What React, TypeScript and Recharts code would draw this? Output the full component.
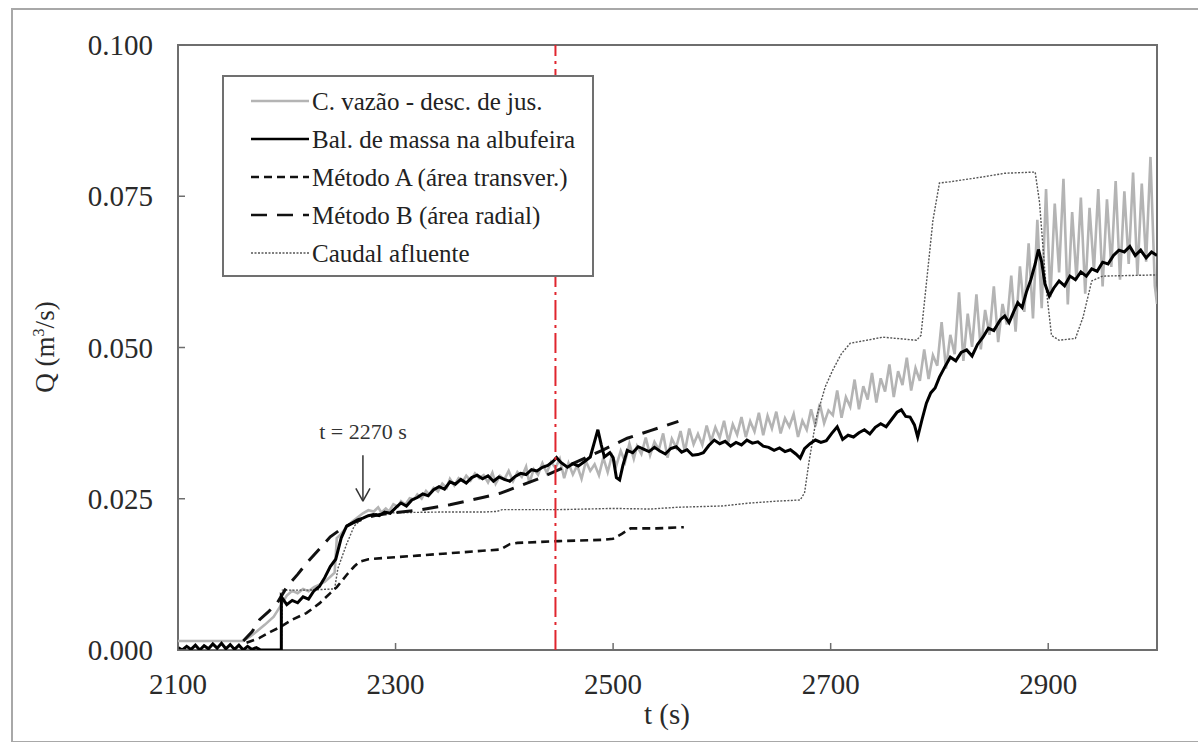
import React from 'react';
import { LineChart, Line, XAxis, YAxis, ReferenceLine, ReferenceArea, ReferenceDot } from 'recharts';

type P = [number, number];

const xTicks = [2100, 2300, 2500, 2700, 2900];
const yTicks = [0, 0.025, 0.05, 0.075, 0.1];
const markerTime = 2447;
const annotTime = 2270;

const cVazao: P[] = [
  [2100, 0.0015], [2160, 0.0015], [2166, 0.0022], [2172, 0.003], [2180, 0.0042], [2188, 0.0055], [2195, 0.0075],
  [2200, 0.009], [2205, 0.0098], [2210, 0.0094], [2215, 0.0101], [2220, 0.0097], [2225, 0.0104], [2230, 0.0108],
  [2235, 0.0113], [2240, 0.0121], [2244, 0.0128], [2246, 0.0185], [2250, 0.0192], [2255, 0.0203], [2260, 0.0212],
  [2265, 0.0219], [2270, 0.0226], [2275, 0.0231],
  [2280, 0.0229], [2284, 0.0236], [2287, 0.0227], [2291, 0.0234], [2294, 0.0229], [2298, 0.0241], [2302, 0.0237],
  [2305, 0.0246], [2309, 0.024], [2313, 0.0251], [2317, 0.0249], [2320, 0.0257], [2324, 0.025], [2328, 0.0263],
  [2331, 0.0257], [2335, 0.0268], [2339, 0.0262], [2343, 0.0275], [2347, 0.0268], [2350, 0.0283], [2354, 0.0272],
  [2358, 0.0284], [2362, 0.0279], [2365, 0.0288], [2369, 0.028], [2373, 0.0292], [2377, 0.0284], [2381, 0.0289],
  [2385, 0.0277], [2389, 0.0293], [2392, 0.0275], [2396, 0.0288], [2400, 0.0282], [2404, 0.0296], [2408, 0.0279],
  [2412, 0.0294], [2416, 0.0286], [2420, 0.0303], [2423, 0.0276], [2427, 0.0299], [2431, 0.029], [2435, 0.0309],
  [2439, 0.0293], [2443, 0.0311], [2447, 0.0301], [2451, 0.0316], [2455, 0.0284], [2459, 0.0309], [2463, 0.029],
  [2467, 0.0305], [2471, 0.0283], [2475, 0.0312], [2479, 0.0296], [2483, 0.0307], [2487, 0.0289], [2491, 0.0318],
  [2495, 0.0294], [2499, 0.0322], [2503, 0.0305], [2507, 0.0329], [2511, 0.0311], [2515, 0.0341], [2519, 0.0316],
  [2522, 0.0337], [2526, 0.0324], [2530, 0.0351], [2534, 0.0322], [2538, 0.0344], [2542, 0.0331], [2546, 0.0358],
  [2550, 0.0318], [2554, 0.0349], [2558, 0.0335], [2562, 0.0362], [2566, 0.0328], [2570, 0.0366], [2574, 0.034],
  [2578, 0.0357], [2582, 0.0339], [2586, 0.0371], [2590, 0.0345], [2594, 0.0368], [2598, 0.0351], [2602, 0.0379],
  [2606, 0.0344], [2610, 0.0373], [2614, 0.0356], [2618, 0.0385], [2622, 0.0352], [2626, 0.0378], [2630, 0.0361],
  [2634, 0.0392], [2638, 0.0355], [2642, 0.0387], [2646, 0.0366], [2650, 0.0394], [2654, 0.0358], [2658, 0.0383],
  [2662, 0.0369], [2666, 0.039], [2670, 0.0352], [2674, 0.0379], [2678, 0.0364], [2682, 0.0398], [2686, 0.037],
  [2690, 0.0407], [2694, 0.0375], [2698, 0.0396], [2702, 0.0388], [2706, 0.0429], [2710, 0.0384], [2714, 0.0418],
  [2718, 0.0402], [2722, 0.0447], [2726, 0.0398], [2730, 0.0436], [2734, 0.0414], [2738, 0.0458], [2742, 0.0409],
  [2746, 0.0449], [2750, 0.0427], [2754, 0.0472], [2758, 0.0418], [2762, 0.0461], [2766, 0.0438], [2770, 0.0483],
  [2774, 0.0429], [2778, 0.0466], [2782, 0.0445], [2786, 0.0497], [2790, 0.0448], [2794, 0.0487], [2798, 0.047],
  [2802, 0.0542], [2806, 0.0465], [2810, 0.0521], [2814, 0.0489], [2818, 0.0591], [2822, 0.0478], [2826, 0.0556],
  [2830, 0.0501], [2834, 0.0588], [2838, 0.0497], [2842, 0.0562], [2846, 0.0521], [2850, 0.0601], [2854, 0.0509],
  [2858, 0.0572], [2862, 0.0538], [2866, 0.0619], [2870, 0.0526], [2874, 0.0634], [2878, 0.0559], [2882, 0.0672],
  [2886, 0.0548], [2890, 0.0711], [2894, 0.0565], [2898, 0.0762], [2902, 0.0583], [2906, 0.0738], [2910, 0.0624],
  [2914, 0.0779], [2918, 0.0571], [2922, 0.0724], [2926, 0.0612], [2930, 0.0748], [2934, 0.0589], [2938, 0.0731],
  [2942, 0.0627], [2946, 0.0762], [2950, 0.0601], [2954, 0.0745], [2958, 0.0633], [2962, 0.0775], [2966, 0.0612],
  [2970, 0.0758], [2974, 0.0638], [2978, 0.0789], [2982, 0.0619], [2986, 0.0771], [2990, 0.0642], [2994, 0.0815],
  [2998, 0.0602], [3000, 0.0572],
];

const balMassa: P[] = [
  [2100, 0.0004], [2104, 0.0], [2108, 0.0006], [2112, 0.0001], [2116, 0.0008], [2120, 0.0], [2124, 0.0007],
  [2128, 0.0002], [2132, 0.001], [2136, 0.0003], [2140, 0.0011], [2144, 0.0002], [2148, 0.0009], [2152, 0.0001],
  [2156, 0.0008], [2160, 0.0], [2164, 0.0006], [2168, 0.0001], [2172, 0.0004], [2176, 0.0], [2195, 0.0],
  [2195, 0.0088], [2200, 0.0075], [2205, 0.0082], [2210, 0.0078], [2215, 0.0088], [2220, 0.0084], [2225, 0.0098],
  [2230, 0.0105], [2235, 0.012], [2240, 0.0138], [2245, 0.015], [2250, 0.0185], [2255, 0.0205], [2260, 0.021],
  [2265, 0.0215], [2270, 0.0218], [2275, 0.0222], [2280, 0.0224], [2285, 0.0222], [2290, 0.0228], [2295, 0.0226],
  [2300, 0.0235], [2305, 0.0243], [2310, 0.0238], [2315, 0.0248], [2320, 0.0252], [2325, 0.0258], [2330, 0.0255],
  [2335, 0.0265], [2340, 0.027], [2345, 0.0266], [2350, 0.0278], [2355, 0.0274], [2360, 0.0282], [2365, 0.0276],
  [2370, 0.0285], [2375, 0.0289], [2380, 0.0283], [2385, 0.0288], [2390, 0.0279], [2395, 0.0286], [2400, 0.0282],
  [2405, 0.0279], [2410, 0.0287], [2415, 0.0292], [2420, 0.029], [2425, 0.0298], [2430, 0.0296], [2435, 0.0302],
  [2440, 0.0305], [2445, 0.0312], [2448, 0.0318], [2452, 0.031], [2458, 0.0302], [2463, 0.0308], [2468, 0.0304],
  [2474, 0.0312], [2479, 0.0319], [2483, 0.0345], [2486, 0.0364], [2489, 0.034], [2492, 0.0319], [2497, 0.0326],
  [2500, 0.0318], [2503, 0.0285], [2506, 0.0281], [2509, 0.0305], [2513, 0.033], [2518, 0.0326], [2523, 0.0336],
  [2528, 0.0332], [2533, 0.0328], [2538, 0.0335], [2543, 0.0329], [2548, 0.0324], [2553, 0.0333], [2558, 0.0336],
  [2563, 0.0327], [2568, 0.0331], [2573, 0.0322], [2578, 0.0323], [2583, 0.0326], [2588, 0.0338], [2593, 0.0347],
  [2598, 0.0341], [2603, 0.0345], [2608, 0.0337], [2613, 0.0343], [2618, 0.0339], [2623, 0.0347], [2628, 0.0342],
  [2633, 0.0344], [2638, 0.0337], [2643, 0.0335], [2648, 0.033], [2653, 0.0334], [2658, 0.0328], [2663, 0.0331],
  [2668, 0.0324], [2672, 0.0317], [2676, 0.0333], [2681, 0.0341], [2686, 0.0347], [2691, 0.0343], [2696, 0.0346],
  [2701, 0.0358], [2706, 0.0369], [2711, 0.0348], [2716, 0.0355], [2721, 0.0352], [2726, 0.0359], [2731, 0.0364],
  [2736, 0.0357], [2741, 0.0368], [2746, 0.0374], [2751, 0.0369], [2756, 0.0381], [2761, 0.0393], [2765, 0.0397],
  [2769, 0.0386], [2773, 0.0385], [2777, 0.0372], [2780, 0.0352], [2784, 0.0381], [2788, 0.0408], [2792, 0.0425],
  [2796, 0.0433], [2800, 0.0451], [2805, 0.0468], [2810, 0.0484], [2815, 0.0478], [2820, 0.0492], [2825, 0.0496],
  [2830, 0.0486], [2835, 0.0505], [2840, 0.0517], [2845, 0.0532], [2850, 0.0528], [2856, 0.0546], [2860, 0.0552],
  [2864, 0.0541], [2868, 0.0558], [2872, 0.0574], [2876, 0.0566], [2880, 0.0592], [2884, 0.0612], [2888, 0.0638],
  [2891, 0.0662], [2894, 0.0641], [2897, 0.0605], [2901, 0.0585], [2905, 0.0598], [2910, 0.061], [2915, 0.0602],
  [2920, 0.0618], [2925, 0.0612], [2930, 0.0625], [2935, 0.0618], [2940, 0.063], [2945, 0.0626], [2950, 0.0641],
  [2955, 0.0638], [2960, 0.0652], [2965, 0.0661], [2970, 0.0658], [2975, 0.0667], [2980, 0.0652], [2985, 0.0661],
  [2990, 0.0648], [2995, 0.0658], [3000, 0.0652],
];

const metodoA: P[] = [
  [2163, 0.0012], [2175, 0.002], [2185, 0.003], [2194, 0.0038], [2205, 0.005], [2218, 0.0061], [2230, 0.0077],
  [2240, 0.0094], [2246, 0.0104], [2255, 0.0124], [2262, 0.0138], [2267, 0.0146], [2275, 0.015], [2289, 0.0152],
  [2320, 0.0156], [2350, 0.016], [2380, 0.0164], [2396, 0.0166], [2405, 0.0175], [2412, 0.0177], [2450, 0.018],
  [2490, 0.0182], [2500, 0.0184], [2508, 0.0192], [2516, 0.0201], [2540, 0.0201], [2565, 0.0203],
];

const metodoB: P[] = [
  [2160, 0.0015], [2168, 0.003], [2175, 0.005], [2183, 0.0063], [2191, 0.0077], [2200, 0.0104], [2210, 0.0125],
  [2218, 0.0143], [2230, 0.0167], [2240, 0.0187], [2250, 0.02], [2261, 0.021], [2272, 0.0218], [2283, 0.0223],
  [2300, 0.0227], [2320, 0.0231], [2350, 0.024], [2380, 0.0252], [2396, 0.0259], [2430, 0.0282], [2460, 0.0306],
  [2490, 0.033], [2513, 0.035], [2535, 0.0363], [2560, 0.0378],
];

const caudalAfluente: P[] = [
  [2195, 0.0], [2196, 0.0099], [2220, 0.0099], [2244, 0.0101], [2247, 0.0135], [2255, 0.0175], [2262, 0.0205],
  [2270, 0.0218], [2280, 0.0225], [2300, 0.0227], [2340, 0.0228], [2380, 0.0228], [2393, 0.0229], [2398, 0.0232],
  [2450, 0.0232], [2500, 0.0234], [2534, 0.0233], [2560, 0.0236], [2600, 0.0238], [2626, 0.0243], [2650, 0.0246],
  [2672, 0.0248], [2676, 0.026], [2680, 0.031], [2687, 0.0385], [2695, 0.0435], [2702, 0.0463], [2710, 0.049],
  [2718, 0.0507], [2748, 0.0517], [2779, 0.0512], [2783, 0.052], [2788, 0.0606], [2794, 0.071], [2800, 0.0772],
  [2810, 0.0774], [2840, 0.0782], [2860, 0.0788], [2888, 0.079], [2892, 0.074], [2898, 0.06], [2903, 0.052],
  [2910, 0.0512], [2925, 0.0515], [2932, 0.055], [2940, 0.061], [2950, 0.0618], [3000, 0.062],
];

const legendLabels = [
  'C. vazão - desc. de jus.',
  'Bal. de massa na albufeira',
  'Método A (área transver.)',
  'Método B (área radial)',
  'Caudal afluente',
];

const toData = (arr: P[]) => arr.map(([t, q]) => ({ t, q }));

const FONT = "'Liberation Serif', 'Times New Roman', Times, serif";
const AXIS = '#6e6e6e';

// styles follow legend order
const styles = [
  { stroke: '#b4b4b4', strokeWidth: 2.6, dash: undefined as string | undefined },
  { stroke: '#000', strokeWidth: 3, dash: undefined },
  { stroke: '#111', strokeWidth: 2.6, dash: '8 5' },
  { stroke: '#111', strokeWidth: 3, dash: '16 10' },
  { stroke: '#555', strokeWidth: 1.4, dash: '2 1.5' },
];

const XTick = (props: any) => {
  const { x, y, payload } = props;
  return (
    <g>
      <line x1={x} y1={y} x2={x} y2={y - 7} stroke={AXIS} strokeWidth={1.5} />
      <text x={x} y={y + 44} textAnchor="middle" fontFamily={FONT} fontSize={29} fill="#2a2a2a">
        {payload.value}
      </text>
    </g>
  );
};

const YTick = (props: any) => {
  const { x, y, payload } = props;
  return (
    <g>
      <line x1={x} y1={y} x2={x + 7} y2={y} stroke={AXIS} strokeWidth={1.5} />
      <text x={x - 25} y={y} dy="0.35em" textAnchor="end" fontFamily={FONT} fontSize={29} fill="#2a2a2a">
        {Number(payload.value).toFixed(3)}
      </text>
    </g>
  );
};

export default function App() {
  const series = [cVazao, balMassa, metodoA, metodoB, caudalAfluente];
  const order = [0, 4, 2, 3, 1];
  return (
    <div style={{ position: 'absolute', left: 0, top: 0, width: 1198, height: 742, background: '#fff', overflow: 'hidden', fontFamily: FONT }}>
      <div style={{ position: 'absolute', left: 11, top: 8, width: 1200, height: 731, border: '2px solid #a8a8a8' }} />
      <LineChart width={1198} height={742} margin={{ top: 45, right: 41, bottom: 0, left: 0 }}>
        <XAxis
          dataKey="t"
          type="number"
          domain={[2100, 3000]}
          ticks={xTicks}
          allowDataOverflow
          axisLine={false}
          tickLine={false}
          tickSize={0}
          tickMargin={0}
          height={92}
          tick={<XTick />}
        />
        <YAxis
          type="number"
          domain={[0, 0.1]}
          ticks={yTicks}
          allowDataOverflow
          axisLine={false}
          tickLine={false}
          tickSize={0}
          tickMargin={0}
          width={178}
          tick={<YTick />}
        />
        <ReferenceArea x1={2100} x2={3000} y1={0} y2={0.1} fill="none" stroke={AXIS} strokeWidth={2} />
        {order.map((i) => (
          <Line
            key={i}
            data={toData(series[i])}
            dataKey="q"
            type="linear"
            dot={false}
            activeDot={false}
            stroke={styles[i].stroke}
            strokeWidth={styles[i].strokeWidth}
            strokeDasharray={styles[i].dash}
            isAnimationActive={false}
          />
        ))}
        <ReferenceLine x={markerTime} stroke="#e0252e" strokeWidth={2} strokeDasharray="20 5 3 5" />
        <ReferenceLine segment={[{ x: annotTime, y: 0.0322 }, { x: annotTime, y: 0.0246 }]} stroke="#333" strokeWidth={1.5} />
        <ReferenceLine segment={[{ x: annotTime - 6.5, y: 0.0267 }, { x: annotTime, y: 0.0246 }]} stroke="#333" strokeWidth={1.5} />
        <ReferenceLine segment={[{ x: annotTime + 6.5, y: 0.0267 }, { x: annotTime, y: 0.0246 }]} stroke="#333" strokeWidth={1.5} />
        <ReferenceDot
          x={annotTime}
          y={0.0362}
          r={0}
          shape={(p: any) => (
            <text x={p.cx} y={p.cy} dy="0.35em" textAnchor="middle" fontFamily={FONT} fontSize={22} fill="#333">
              t = 2270 s
            </text>
          )}
        />
      </LineChart>
      <div style={{ position: 'absolute', left: 0, top: 0, width: 1198, height: 742, pointerEvents: 'none' }}>
        <div style={{ position: 'absolute', left: 667, top: 700, transform: 'translateX(-50%)', fontFamily: FONT, fontSize: 29, color: '#2a2a2a', whiteSpace: 'nowrap', lineHeight: 1 }}>
          t (s)
        </div>
        <div style={{ position: 'absolute', left: 45, top: 347, transform: 'translate(-50%, -50%) rotate(-90deg)', fontFamily: FONT, fontSize: 27, color: '#2a2a2a', whiteSpace: 'nowrap', lineHeight: 1 }}>
          Q (m<sup style={{ fontSize: 16 }}>3</sup>/s)
        </div>
        <div style={{ position: 'absolute', left: 222, top: 75, width: 368, height: 198, border: '2px solid #707070', background: '#fff' }}>
          <svg width={368} height={198}>
            {legendLabels.map((lab, i) => {
              const cy = 24 + i * 38;
              return (
                <g key={lab}>
                  <line x1={27} y1={cy} x2={85} y2={cy} stroke={styles[i].stroke} strokeWidth={Math.min(styles[i].strokeWidth, 2.4)} strokeDasharray={styles[i].dash} />
                  <text x={88} y={cy} dy="0.35em" fontFamily={FONT} fontSize={25} fill="#222">{lab}</text>
                </g>
              );
            })}
          </svg>
        </div>
      </div>
    </div>
  );
}
